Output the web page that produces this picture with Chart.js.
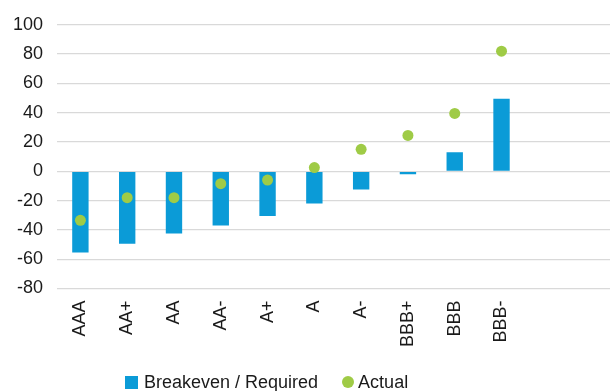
<!DOCTYPE html>
<html>
<head>
<meta charset="utf-8">
<script src="https://cdn.jsdelivr.net/npm/chart.js@4/dist/chart.umd.min.js"></script>
<style>
  html, body { margin: 0; padding: 0; background: #fff; overflow: hidden; }
  #wrap { position: relative; width: 624px; height: 391px; }
  #chart { display: block; }
  #legend {
    position: absolute; left: 125px; top: 372px;
    font: 18px "Liberation Sans", Arial, sans-serif; color: #1a1a1a;
    line-height: 20px; display: flex; align-items: center; white-space: nowrap;
  }
  #legend .sq { display: inline-block; width: 13px; height: 13px; background: #0b9bd7; margin-right: 6px; }
  #legend .dot { display: inline-block; width: 12px; height: 12px; border-radius: 50%; background: #9fcb46; margin-left: 24px; margin-right: 4px; }
</style>
</head>
<body>
<div id="wrap">
  <canvas id="chart" width="624" height="391"></canvas>
  <div id="legend"><span class="sq"></span><span>Breakeven / Required</span><span class="dot"></span><span>Actual</span></div>
</div>
<script>
// Rating buckets along the x axis
const ratings = ['AAA', 'AA+', 'AA', 'AA-', 'A+', 'A', 'A-', 'BBB+', 'BBB', 'BBB-'];
// Spread needed to break even, per rating
const breakeven = [-55.5, -49.5, -42.5, -37, -30.5, -22, -12.5, -2, 13, 49.5];
// Observed spread, per rating
const actual = [-33.5, -18, -18, -8.5, -6, 2.5, 15, 24.5, 39.5, 82];
// Value axis ticks
const yTicks = [-80, -60, -40, -20, 0, 20, 40, 60, 80, 100];

// two trailing empty slots leave open space on the right of the plot
const axisLabels = ratings.concat(['', '']);

const tickFont = { family: '"Liberation Sans", Arial, sans-serif', size: 18 };

new Chart(document.getElementById('chart'), {
  data: {
    labels: axisLabels,
    datasets: [
      {
        type: 'bar',
        label: 'Breakeven / Required',
        data: breakeven,
        backgroundColor: '#0b9bd7',
        barPercentage: 0.35,
        categoryPercentage: 1,
        order: 1
      },
      {
        type: 'line',
        label: 'Actual',
        data: actual,
        showLine: false,
        pointRadius: 5.5,
        pointHoverRadius: 5.5,
        pointBackgroundColor: '#9fcb46',
        pointBorderWidth: 0,
        order: 0
      }
    ]
  },
  options: {
    responsive: false,
    animation: false,
    devicePixelRatio: 1,
    layout: { padding: { top: 14, right: 2, bottom: 40, left: 0 } },
    plugins: { legend: { display: false }, tooltip: { enabled: false } },
    scales: {
      x: {
        grid: { display: false },
        border: { display: false },
        ticks: {
          font: tickFont, color: '#1a1a1a',
          minRotation: 90, maxRotation: 90, padding: 4, autoSkip: false
        }
      },
      y: {
        min: yTicks[0],
        max: yTicks[yTicks.length - 1],
        afterBuildTicks: (scale) => { scale.ticks = yTicks.map(v => ({ value: v })); },
        afterFit: (scale) => { scale.width = 57; },
        grid: { color: '#d9d9d9', lineWidth: 1.3, drawTicks: false },
        border: { display: false },
        ticks: { font: tickFont, color: '#1a1a1a', padding: 14 }
      }
    }
  }
});
</script>
</body>
</html>
